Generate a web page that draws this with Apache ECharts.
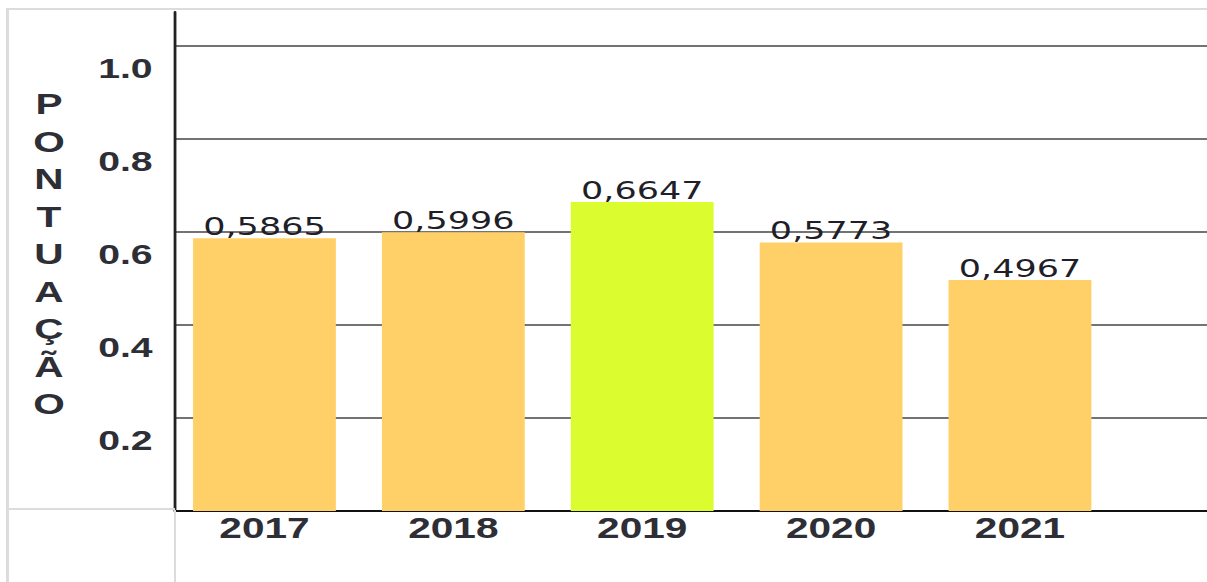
<!DOCTYPE html>
<html>
<head>
<meta charset="utf-8">
<script src="https://cdn.jsdelivr.net/npm/echarts@6/dist/echarts.min.js"></script>
<style>
	html, body { margin: 0; padding: 0; background: #fff; }
	#wrap { position: relative; width: 1207px; height: 582px; overflow: hidden; }
	/* the picture is stretched sideways, so draw narrow and widen */
	#chart { position: absolute; left: 0; top: 0; width: 862px; height: 582px;
		transform: scaleX(1.4002); transform-origin: 0 0; }
	.ln { position: absolute; background: #dcdcdc; }
</style>
</head>
<body>
<div id="wrap">
	<div id="chart"></div>
	<div class="ln" style="left:6px;top:8px;width:1201px;height:2px"></div>
	<div class="ln" style="left:6px;top:8px;width:3px;height:574px"></div>
	<div class="ln" style="left:8px;top:508px;width:167px;height:2px"></div>
	<div class="ln" style="left:174px;top:510px;width:2px;height:72px"></div>
</div>
<script>
	var years = ['2017', '2018', '2019', '2020', '2021'];
	var scores = [0.5865, 0.5996, 0.6647, 0.5773, 0.4967];
	var barColors = ['#FFD068', '#FFD068', '#DBFC2E', '#FFD068', '#FFD068'];
	var yTicks = [0.2, 0.4, 0.6, 0.8, 1.0];
	var axisTitle = 'PONTUAÇÃO';

	var charts = echarts.init(document.getElementById('chart'), null, {
				renderer : 'svg'
			});

	var barData = [];
	for (var i = 0; i < years.length; i++) {
		barData.push({
					value : [i + 0.5, scores[i]],
					itemStyle : {
						color : barColors[i]
					}
				});
	}

	var option = {
		animation : false,
		grid : {
			left : 125,
			right : 0,
			top : 12,
			bottom : 71
		},
		graphic : [{
					type : 'text',
					x : 35,
					y : 254,
					style : {
						text : axisTitle.split('').join('\n'),
						align : 'center',
						verticalAlign : 'middle',
						font : 'bold 29px "Liberation Sans", Arial, sans-serif',
						lineHeight : 37.5,
						fill : '#2e2e36'
					}
				}],
		xAxis : {
			type : 'value',
			min : 0.0265,
			max : 5.49,
			axisLine : {
				show : true,
				lineStyle : {
					color : '#111',
					width : 2
				}
			},
			axisTick : {
				show : false
			},
			splitLine : {
				show : false
			},
			axisLabel : {
				customValues : years.map(function(y, i) {
							return i + 0.5;
						}),
				formatter : function(v) {
					return years[Math.round(v - 0.5)];
				},
				margin : 2,
				fontFamily : '"Liberation Sans", Arial, sans-serif',
				fontWeight : 'bold',
				fontSize : 29,
				color : '#2e2e36'
			}
		},
		yAxis : {
			type : 'value',
			min : 0,
			max : 1.073,
			interval : 0.2,
			axisLine : {
				show : true,
				lineStyle : {
					color : '#222',
					width : 2
				}
			},
			axisTick : {
				show : false
			},
			splitLine : {
				show : true,
				showMaxLine : false,
				lineStyle : {
					color : '#444',
					width : 1.5
				}
			},
			axisLabel : {
				customValues : yTicks,
				formatter : function(v) {
					return v.toFixed(1);
				},
				margin : 16,
				verticalAlign : 'top',
				padding : [8, 0, 0, 0],
				fontFamily : '"Liberation Sans", Arial, sans-serif',
				fontWeight : 'bold',
				fontSize : 28,
				color : '#2e2e36'
			}
		},
		series : [{
					type : 'bar',
					barWidth : 102,
					data : barData,
					label : {
						show : true,
						position : 'top',
						distance : 0,
						formatter : function(p) {
							return p.value[1].toFixed(4).replace('.', ',');
						},
						fontFamily : '"DejaVu Sans", sans-serif',
						fontSize : 25,
						lineHeight : 24,
						color : '#1f1f2a'
					}
				}]
	};

	charts.setOption(option);
</script>
</body>
</html>
